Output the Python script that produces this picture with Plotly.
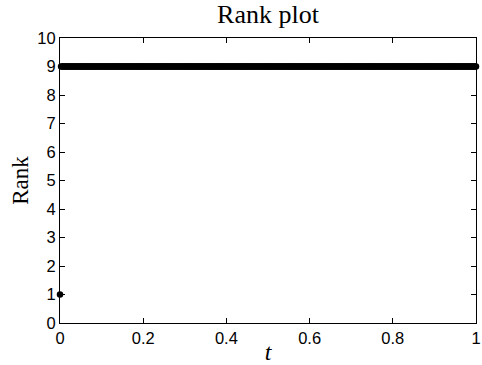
import numpy as np
import plotly.graph_objects as go

t = np.linspace(0, 1, 401).tolist()
rank = [1] + [9] * 400
x_ticks = [0, 0.2, 0.4, 0.6, 0.8, 1]
x_labels = ["0", "0.2", "0.4", "0.6", "0.8", "1"]
y_ticks = list(range(0, 11))

fig = go.Figure()
fig.add_trace(go.Scatter(
    x=t, y=rank, mode="markers",
    marker=dict(color="black", size=6.5, line=dict(width=0)),
    cliponaxis=False, showlegend=False,
))

axis_common = dict(
    showline=True, linecolor="black", linewidth=1, mirror="ticks",
    ticks="inside", ticklen=5, tickcolor="black", tickwidth=1,
    showgrid=False, zeroline=False, automargin=False,
    tickfont=dict(family="Liberation Sans", size=16.5, color="black"),
)

fig.update_layout(
    width=482, height=365,
    margin=dict(l=60, r=6, t=38, b=42),
    plot_bgcolor="white", paper_bgcolor="white",
    title=dict(text="Rank plot", x=0.5, xanchor="center", xref="paper",
               yref="container", y=1 - 14 / 365, yanchor="middle",
               font=dict(family="Liberation Serif", size=26, color="black")),
    xaxis=dict(range=[0, 1], tickvals=x_ticks, ticktext=x_labels,
               title=dict(text="<i>t</i>", standoff=3,
                          font=dict(family="Liberation Serif", size=24, color="black")),
               **axis_common),
    yaxis=dict(range=[0, 10], tickvals=y_ticks,
               title=dict(text="Rank", standoff=2,
                          font=dict(family="Liberation Serif", size=23, color="black")),
               **axis_common),
)

fig.write_html("out.html")
